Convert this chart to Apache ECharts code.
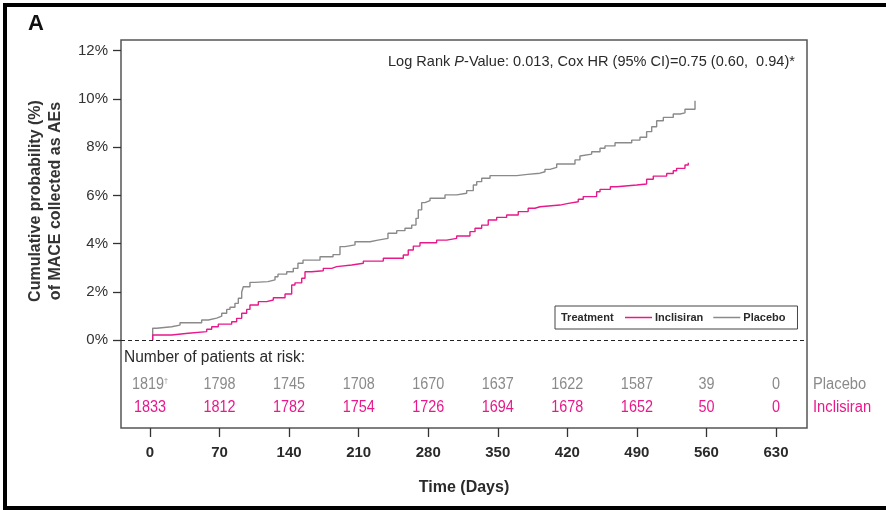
<!DOCTYPE html>
<html><head><meta charset="utf-8">
<script src="https://cdn.jsdelivr.net/npm/echarts@6/dist/echarts.min.js"></script>
<style>html,body{margin:0;padding:0;background:#fff}#c{width:886px;height:510px}</style>
</head><body><div id="c"></div>
<script>
// ---- data ----
const dayTicks = [0, 70, 140, 210, 280, 350, 420, 490, 560, 630];
const pctTicks = [0, 2, 4, 6, 8, 10, 12];
const placeboRisk = ['1819', '1798', '1745', '1708', '1670', '1637', '1622', '1587', '39', '0'];
const inclisiranRisk = ['1833', '1812', '1782', '1754', '1726', '1694', '1678', '1652', '50', '0'];
const seriesNames = ['Inclisiran', 'Placebo'];

// Kaplan-Meier cumulative incidence (%) : [day, value from that day on]
const placebo = [
  [2.7, 0], [2.7, 0.50], [6.7, 0.56], [21.8, 0.63], [30.2, 0.73], [52.0, 0.84], [58.7, 0.92],
  [67.1, 1.00], [72.2, 1.12], [77.2, 1.28], [80.5, 1.37], [85.5, 1.53], [88.9, 1.74],
  [92.3, 2.00], [93.9, 2.22], [100.6, 2.40], [105.7, 2.43], [118.7, 2.50], [125.8, 2.63],
  [128.8, 2.74], [137.6, 2.84], [144.2, 2.98], [148.9, 3.19], [154.0, 3.32], [171.1, 3.46],
  [184.2, 3.55], [191.2, 3.88], [196.2, 3.95], [206.3, 4.08], [221.4, 4.15], [229.4, 4.22],
  [239.5, 4.43], [248.3, 4.54], [256.6, 4.64], [263.4, 4.77], [267.7, 5.05], [270.0, 5.40],
  [273.4, 5.70], [276.7, 5.78], [281.8, 5.88], [296.9, 6.02], [308.6, 6.09], [318.7, 6.20],
  [325.4, 6.43], [328.8, 6.57], [333.8, 6.71], [342.2, 6.82], [369.0, 6.87], [380.0, 6.92],
  [392.5, 6.98], [397.5, 7.08], [402.5, 7.16], [409.3, 7.30], [427.7, 7.47], [432.7, 7.63],
  [434.4, 7.71], [444.5, 7.81], [452.9, 7.95], [457.9, 8.05], [468.0, 8.18], [484.8, 8.29],
  [493.1, 8.41], [499.8, 8.64], [504.9, 8.84], [509.9, 9.09], [516.6, 9.23], [526.6, 9.37],
  [533.4, 9.42], [538.4, 9.57], [548.5, 9.92]
];
const inclisiran = [
  [2.7, 0], [2.7, 0.22], [21.8, 0.29], [38.5, 0.36], [57.1, 0.46], [62.1, 0.56], [68.7, 0.67],
  [82.2, 0.77], [87.2, 0.91], [92.3, 1.12], [97.3, 1.28], [100.6, 1.46], [109.0, 1.60],
  [117.4, 1.67], [124.1, 1.76], [135.9, 1.92], [142.6, 2.29], [145.9, 2.38], [152.7, 2.57],
  [156.0, 2.84], [162.7, 2.88], [174.4, 2.98], [182.9, 3.05], [187.9, 3.12], [203.0, 3.19],
  [214.7, 3.28], [234.8, 3.40], [254.9, 3.53], [259.9, 3.74], [265.0, 3.90], [271.7, 4.04],
  [288.5, 4.15], [298.6, 4.22], [308.6, 4.32], [322.0, 4.50], [327.1, 4.64], [333.8, 4.77],
  [340.4, 4.98], [348.9, 5.09], [358.9, 5.19], [370.6, 5.33], [380.6, 5.47], [387.4, 5.53],
  [392.5, 5.60], [412.6, 5.67], [421.0, 5.74], [431.0, 5.84], [436.0, 5.95], [449.5, 6.15],
  [452.9, 6.25], [463.3, 6.36], [469.7, 6.43], [489.8, 6.47], [499.8, 6.67], [506.5, 6.80],
  [520.0, 6.91], [526.6, 7.02], [530.0, 7.12], [538.4, 7.26], [541.7, 7.35]
];

// ---- styles ----
const FONT = "'Liberation Sans', Arial, sans-serif";
const PINK = '#e8198b';
const GREY = '#8a8a8a';
const DARK = '#2a2a2a';

const chart = echarts.init(document.getElementById('c'), null, {renderer: 'canvas'});

const option = {
  animation: false,
  backgroundColor: '#fff',
  grid: {left: 121, right: 79, top: 40, bottom: 82, show: true, borderColor: '#555', borderWidth: 1.5, backgroundColor: 'transparent'},
  xAxis: {
    type: 'value', min: -29.18, max: 661.2,
    name: 'Time (Days)', nameLocation: 'middle', nameGap: 52,
    nameTextStyle: {fontFamily: FONT, fontWeight: 'bold', fontSize: 16, color: DARK},
    axisLine: {show: false, onZero: false},
    axisTick: {show: true, customValues: dayTicks, length: 9, lineStyle: {color: '#333', width: 1.3}},
    axisLabel: {show: true, customValues: dayTicks, margin: 17, fontFamily: FONT, fontWeight: 'bold', fontSize: 15, color: DARK},
    splitLine: {show: false}
  },
  yAxis: {
    type: 'value', min: -3.631, max: 12.435,
    axisLine: {show: false, onZero: false},
    axisTick: {show: true, customValues: pctTicks, length: 8, lineStyle: {color: '#333', width: 1.3}},
    axisLabel: {show: true, customValues: pctTicks, margin: 13, formatter: '{value}%', fontFamily: FONT, fontSize: 15, color: '#333'},
    splitLine: {show: false}
  },
  legend: {
    data: seriesNames, left: 555, top: 306, orient: 'horizontal', icon: 'rect',
    padding: [6, 12, 6, 70], itemGap: 10, itemWidth: 27, itemHeight: 1.5,
    borderColor: '#444', borderWidth: 1, borderRadius: 0,
    textStyle: {fontFamily: FONT, fontSize: 11, fontWeight: 'bold', color: DARK, padding: [0, 0, 0, -2]}
  },
  series: [
    {
      name: 'Inclisiran', type: 'line', step: 'end', symbol: 'none', data: inclisiran,
      lineStyle: {color: PINK, width: 1.4}, itemStyle: {color: PINK}, z: 3,
      markLine: {
        silent: true, symbol: 'none', label: {show: false},
        lineStyle: {color: '#222', width: 1.2, type: [4, 3]},
        data: [{yAxis: 0}]
      }
    },
    {
      name: 'Placebo', type: 'line', step: 'end', symbol: 'none', data: placebo,
      lineStyle: {color: GREY, width: 1.4}, itemStyle: {color: GREY}, z: 2
    }
  ],
  graphic: [
    {id: 'frame', type: 'rect', shape: {x: 5, y: 5, width: 900, height: 503}, style: {fill: 'none', stroke: '#000', lineWidth: 4}, silent: true},
    {id: 'panel', type: 'text', x: 28, y: 24, style: {text: 'A', font: "bold 22px " + FONT, fill: '#111', textVerticalAlign: 'middle'}},
    {id: 'ytitle', type: 'text', x: 46, y: 201, rotation: Math.PI / 2,
      style: {text: 'Cumulative probability (%)\nof MACE collected as AEs', font: "bold 16px " + FONT, fill: '#333', textAlign: 'center', textVerticalAlign: 'middle', lineHeight: 20}},
    {id: 'annot', type: 'text', x: 388, y: 62, scaleX: 0.97,
      style: {text: 'Log Rank {i|P}-Value: 0.013, Cox HR (95% CI)=0.75 (0.60,  0.94)*', font: "15px " + FONT, fill: DARK, textVerticalAlign: 'middle',
        rich: {i: {fontStyle: 'italic', fontFamily: FONT, fontSize: 15, fill: DARK}}}},
    {id: 'treat', type: 'text', x: 561, y: 318, style: {text: 'Treatment', font: "bold 11px " + FONT, fill: DARK, textVerticalAlign: 'middle'}},
    {id: 'riskhead', type: 'text', x: 124, y: 358, scaleX: 0.97, style: {text: 'Number of patients at risk:', font: "16px " + FONT, fill: DARK, textVerticalAlign: 'middle'}},
    {id: 'lblP', type: 'text', x: 813, y: 385, scaleX: 0.92, style: {text: 'Placebo', font: "16px " + FONT, fill: GREY, textVerticalAlign: 'middle'}},
    {id: 'lblI', type: 'text', x: 813, y: 408, scaleX: 0.92, style: {text: 'Inclisiran', font: "16px " + FONT, fill: PINK, textVerticalAlign: 'middle'}}
  ]
};
chart.setOption(option);

// risk table numbers positioned on the x axis scale
const riskGraphics = [];
dayTicks.forEach((d, i) => {
  const px = chart.convertToPixel({xAxisIndex: 0}, d);
  const pTxt = i === 0 ? placeboRisk[i] + '{s|†}' : placeboRisk[i];
  riskGraphics.push({id: 'rp' + i, type: 'text', x: px, y: 385, scaleX: 0.9,
    style: {text: pTxt, font: "16px " + FONT, fill: GREY, textAlign: 'center', textVerticalAlign: 'middle',
      rich: {s: {fontSize: 8, fontFamily: FONT, fill: GREY, padding: [0, 0, 8, 0]}}}});
  riskGraphics.push({id: 'ri' + i, type: 'text', x: px, y: 408, scaleX: 0.9,
    style: {text: inclisiranRisk[i], font: "16px " + FONT, fill: PINK, textAlign: 'center', textVerticalAlign: 'middle'}});
});
chart.setOption({graphic: riskGraphics});
</script></body></html>
